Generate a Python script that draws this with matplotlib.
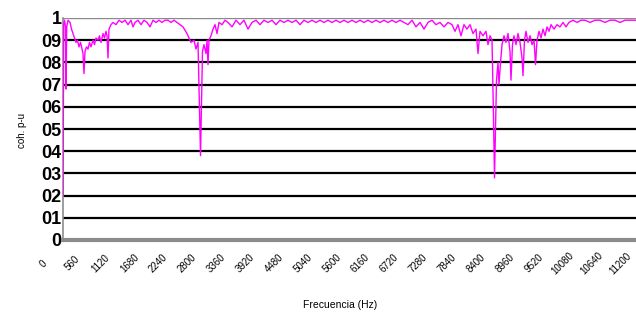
import matplotlib
matplotlib.use("Agg")
import matplotlib.pyplot as plt
import matplotlib.transforms as mtransforms

# Coherence spectrum
freq = [0, 14, 29, 48, 58, 72, 97, 136, 165, 194, 223, 252, 281, 310, 340,
        369, 388, 407, 427, 456, 485, 514, 543, 582, 611, 640, 679, 708, 737,
        776, 805, 834, 854, 873, 892, 931, 970, 1028, 1086, 1145, 1203, 1261,
        1319, 1358, 1397, 1455, 1513, 1571, 1630, 1688, 1746, 1804, 1862,
        1921, 1979, 2037, 2095, 2153, 2212, 2270, 2328, 2406, 2483, 2541,
        2580, 2619, 2648, 2668, 2687, 2706, 2735, 2774, 2794, 2813, 2832,
        2871, 2910, 2949, 2988, 3026, 3085, 3143, 3201, 3279, 3356, 3434,
        3511, 3589, 3667, 3744, 3822, 3899, 3977, 4055, 4132, 4210, 4287,
        4365, 4443, 4520, 4598, 4675, 4753, 4831, 4908, 4986, 5063, 5141,
        5219, 5296, 5374, 5451, 5529, 5607, 5684, 5762, 5839, 5917, 5995,
        6072, 6150, 6227, 6305, 6383, 6460, 6538, 6615, 6693, 6771, 6848,
        6926, 7003, 7081, 7159, 7236, 7314, 7391, 7469, 7547, 7605, 7663,
        7721, 7779, 7837, 7896, 7954, 8012, 8051, 8090, 8148, 8206, 8245,
        8284, 8323, 8352, 8371, 8391, 8410, 8439, 8458, 8488, 8517, 8556,
        8594, 8633, 8672, 8691, 8720, 8749, 8788, 8827, 8866, 8905, 8924,
        8953, 8982, 9021, 9060, 9099, 9138, 9167, 9196, 9235, 9273, 9312,
        9351, 9390, 9429, 9468, 9526, 9584, 9642, 9700, 9758, 9816, 9894,
        9972, 10049, 10127, 10224, 10321, 10418, 10515, 10612, 10709, 10806,
        10903, 11000, 11116, 11232]
coh = [0.20, 0.97, 0.99, 0.96, 0.68, 0.96, 0.99, 0.98, 0.95, 0.93, 0.91,
       0.89, 0.90, 0.87, 0.89, 0.86, 0.84, 0.75, 0.85, 0.87, 0.86, 0.89,
       0.87, 0.90, 0.88, 0.91, 0.90, 0.92, 0.89, 0.93, 0.91, 0.94, 0.92,
       0.82, 0.95, 0.97, 0.98, 0.97, 0.99, 0.98, 0.99, 0.97, 0.99, 0.96,
       0.98, 0.99, 0.97, 0.99, 0.98, 0.96, 0.99, 0.98, 0.99, 0.98, 0.99,
       0.99, 0.98, 0.99, 0.98, 0.97, 0.96, 0.93, 0.89, 0.90, 0.86, 0.89,
       0.60, 0.38, 0.62, 0.85, 0.88, 0.84, 0.90, 0.79, 0.90, 0.92, 0.95,
       0.97, 0.93, 0.98, 0.97, 0.99, 0.98, 0.96, 0.99, 0.97, 0.99, 0.95,
       0.98, 0.99, 0.97, 0.99, 0.98, 0.99, 0.97, 0.99, 0.98, 0.99, 0.98,
       0.99, 0.97, 0.99, 0.98, 0.99, 0.98, 0.99, 0.98, 0.99, 0.98, 0.99,
       0.98, 0.99, 0.98, 0.99, 0.98, 0.99, 0.98, 0.99, 0.98, 0.99, 0.98,
       0.99, 0.98, 0.99, 0.98, 0.99, 0.98, 0.97, 0.99, 0.96, 0.98, 0.95,
       0.98, 0.99, 0.97, 0.98, 0.96, 0.98, 0.97, 0.94, 0.97, 0.92, 0.97,
       0.95, 0.97, 0.93, 0.95, 0.84, 0.94, 0.92, 0.94, 0.88, 0.92, 0.90,
       0.55, 0.28, 0.50, 0.72, 0.80, 0.70, 0.80, 0.88, 0.92, 0.89, 0.93,
       0.85, 0.72, 0.88, 0.92, 0.88, 0.93, 0.89, 0.82, 0.74, 0.90, 0.94,
       0.89, 0.92, 0.88, 0.90, 0.79, 0.90, 0.94, 0.91, 0.95, 0.92, 0.96,
       0.94, 0.97, 0.95, 0.97, 0.96, 0.98, 0.96, 0.98, 0.99, 0.98, 0.99,
       0.99, 0.98, 0.99, 0.99, 0.98, 0.99, 0.99, 0.98, 0.99, 0.99, 0.99,
       0.99]

xticks = list(range(0, 11201, 560))
yticks = [0, 0.1, 0.2, 0.3, 0.4, 0.5, 0.6, 0.7, 0.8, 0.9, 1.0]
ytick_labels = ["0", "01", "02", "03", "04", "05", "06", "07", "08", "09", "1"]

fig = plt.figure(figsize=(6.36, 3.22), dpi=100)
W, H = 636, 322
# plot area runs past the right edge, like the cropped original
ax = fig.add_axes([63 / W, (H - 240) / H, (660 - 63) / W, 222 / H])

for v in yticks[1:-1]:
    ax.axhline(v, color="black", linewidth=1.6, zorder=1)
ax.axhline(1.0, color="#8a8a8a", linewidth=1.0, zorder=1)

ax.plot(freq, coh, color="#ff00ff", linewidth=1.0, zorder=3)

ax.set_xlim(0, (660 - 63) * 19.4)
ax.set_ylim(0, 1)

for s in ["top", "right"]:
    ax.spines[s].set_visible(False)
ax.spines["bottom"].set_color("#8c8c8c")
ax.spines["bottom"].set_linewidth(3)
ax.spines["left"].set_color("#8c8c8c")
ax.spines["left"].set_linewidth(1.2)

ax.set_yticks(yticks)
ax.set_yticklabels(ytick_labels, family="Liberation Sans",
                   fontsize=13, fontweight="bold")
ax.tick_params(axis="y", length=0, pad=1)

ax.set_xticks(xticks)
ax.set_xticklabels([str(t) for t in xticks], rotation=45, ha="center", va="center",
                   fontsize=7, family="Liberation Sans")
ax.tick_params(axis="x", length=0, pad=17)
shift = mtransforms.ScaledTranslation(-20 / 100, 0, fig.dpi_scale_trans)
for lab in ax.get_xticklabels():
    lab.set_transform(lab.get_transform() + shift)

fig.text(22 / W, 1 - 130 / H, "coh. p-u", rotation=90, fontsize=7,
         family="Liberation Sans", ha="center", va="center")
fig.text(340 / W, 1 - 305 / H, "Frecuencia (Hz)", fontsize=7.5,
         family="Liberation Sans", ha="center", va="center")

plt.savefig("out.png", dpi=100)
plt.close()
